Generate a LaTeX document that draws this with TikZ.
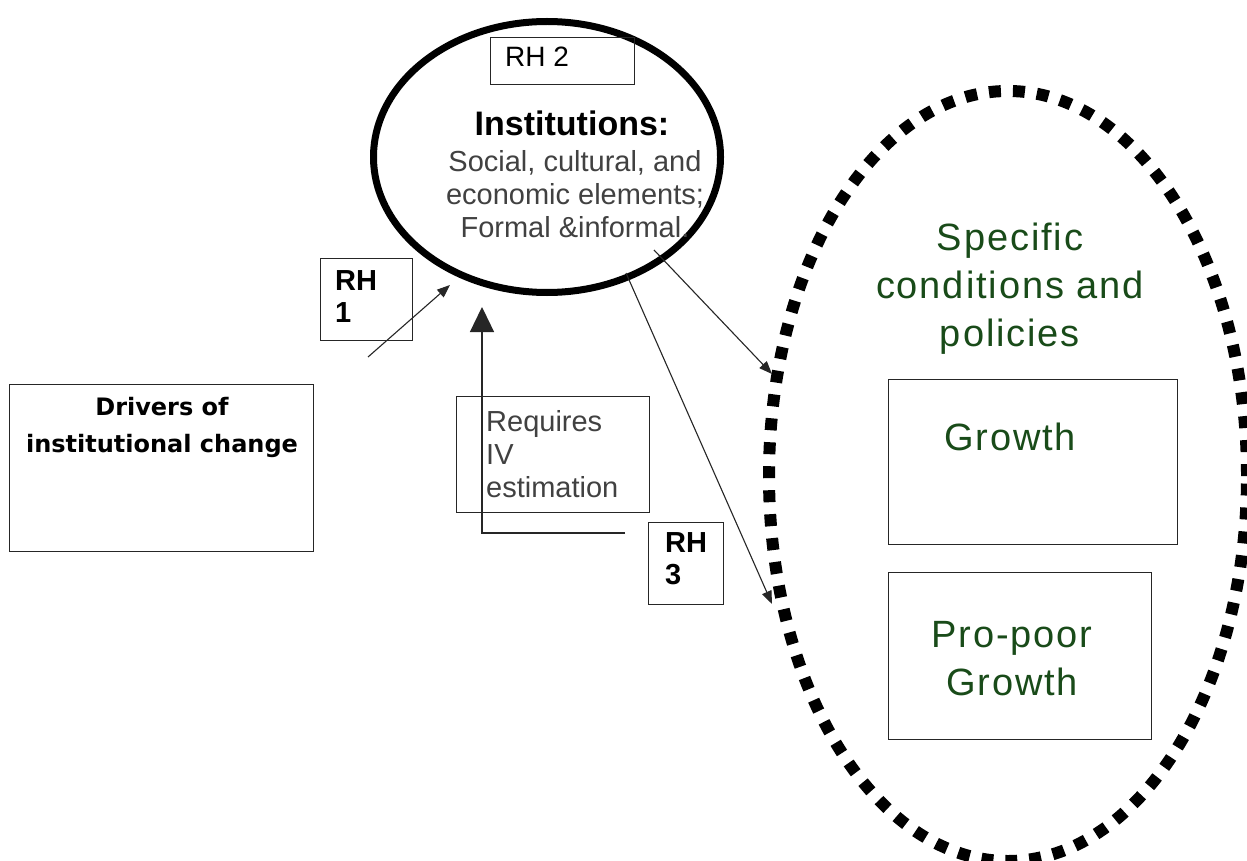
\documentclass[tikz,border=0pt]{standalone}
\usepackage{fontspec}
\setmainfont{Liberation Sans}
\newfontfamily\verd{DejaVu Sans}
\newfontfamily\widefont[LetterSpace=5]{Liberation Sans}
\usetikzlibrary{shapes.geometric,arrows.meta}
\definecolor{dkgreen}{RGB}{25,75,25}
\definecolor{thintext}{RGB}{65,65,65}
\begin{document}
\begin{tikzpicture}[x=1pt,y=-1pt,
  rbox/.style={draw=black!85, line width=1.2pt, inner sep=0pt, anchor=north west},
  conn/.style={draw=black!85, line width=1.1pt, -{Triangle[length=13pt,width=10pt]}},
  thin/.style={text=thintext, font=\fontsize{29}{33}\selectfont, inner sep=0pt},
  rhlab/.style={font=\bfseries\fontsize{29}{32}\selectfont, align=left, inner sep=0pt, anchor=base west},
  green/.style={text=dkgreen, font=\widefont\fontsize{38}{48}\selectfont, align=center, inner sep=0pt, anchor=base}
]
\useasboundingbox (0,0) rectangle (1247,861);
\clip (0,0) rectangle (1247,861);
\fill[white] (0,0) rectangle (1247,861);

% Institutions ellipse
\node[draw, ellipse, line width=7pt, minimum width=347pt, minimum height=271pt, inner sep=0pt] (inst) at (547,157) {};
\node[rbox, minimum width=144pt, minimum height=47pt] (rh2) at (490,37) {};
\node[anchor=base west, font=\fontsize{28}{33}\selectfont, inner sep=0pt] (rh2t) at (505,67) {RH 2};
\node[anchor=base, font=\bfseries\fontsize{34}{40}\selectfont, inner sep=0pt] (instt) at (572,136) {Institutions:};
\node[thin, anchor=base, align=center] (instb) at (575,237) {Social, cultural, and\\economic elements;\\Formal \&informal.};

% Specific conditions ellipse
\node[draw, ellipse, line width=12pt, dash pattern=on 12pt off 12pt, minimum width=478pt, minimum height=770pt, inner sep=0pt] (spec) at (1008,476) {};
\node[green] (spect) at (1010,346) {Specific\\conditions and\\policies};
\node[rbox, minimum width=289pt, minimum height=165pt] (gbox) at (888,379) {};
\node[green] (gt) at (1010,450) {Growth};
\node[rbox, minimum width=263pt, minimum height=167pt] (pbox) at (888,572) {};
\node[green] (pt) at (1012,695) {Pro-poor\\Growth};

% Drivers
\node[rbox, minimum width=304pt, minimum height=167pt] (drv) at (9,384) {};
\node[anchor=base, align=center, font=\verd\bfseries\fontsize{24}{37}\selectfont, inner sep=0pt] (drvt) at (162,452) {Drivers of\\institutional change};

% RH1
\node[rbox, minimum width=92pt, minimum height=82pt] (rh1) at (320,258) {};
\node[rhlab] (rh1t) at (335,322) {RH\\1};
% RH3
\node[rbox, minimum width=75pt, minimum height=82pt] (rh3) at (648,522) {};
\node[rhlab] (rh3t) at (665,584) {RH\\3};
% Requires IV
\node[rbox, minimum width=193pt, minimum height=116pt] (iv) at (456,396) {};
\node[thin, anchor=base west, align=left] (ivt) at (486,497) {Requires\\IV\\estimation};

% connectors
\coordinate (a1s) at (368,357);
\coordinate (a1e) at (450,285);
\coordinate (a2s) at (654,250);
\coordinate (a2e) at (772,374);
\coordinate (a3s) at (626,273);
\coordinate (a3e) at (772,604);
\coordinate (ivs) at (625,533);
\coordinate (ive) at (482,307);
\draw[conn] (a1s) -- (a1e);
\draw[conn] (a2s) -- (a2e);
\draw[conn] (a3s) -- (a3e);
\draw[draw=black!85, line width=1.3pt, -{Triangle[length=25pt,width=24pt]}] (ivs) -| (ive);
\end{tikzpicture}
\end{document}
